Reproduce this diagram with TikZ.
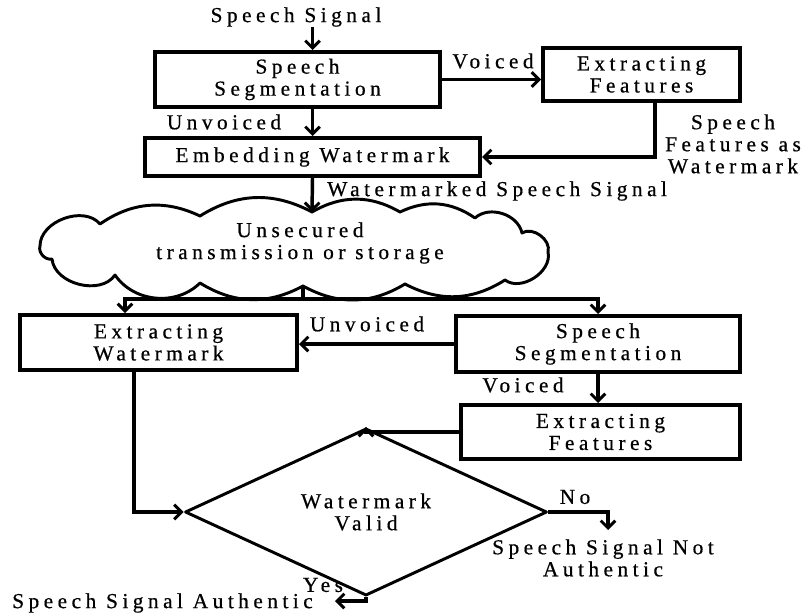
\documentclass[tikz,border=0pt]{standalone}
\usepackage{fontspec}
\setmainfont{Liberation Serif}[LetterSpace=21,FakeBold=0.6]
\usepackage{tikz}
\usetikzlibrary{shapes.geometric,arrows.meta,calc}
\newcommand{\pxu}{0.75pt}
\tikzset{procbox/.style={draw, rectangle, line width=3pt, align=center, inner sep=0pt},
    conn/.style={line width=2.6pt},
    arr/.style={conn, -{Straight Barb[length=5.5pt,width=11pt,line width=2.2pt]}},
    lbl/.style={inner sep=0pt, align=center},
    outline/.style={line width=2.2pt, line join=round}}

\begin{document}
\begin{tikzpicture}[x=0.75pt,y=-0.75pt,font=\fontsize{16}{16.5}\selectfont]
        \useasboundingbox (0,0) rectangle (804,614);
        % embedding side
        \node[lbl] (src) at (296,17) {Speech Signal};
        \node[procbox, minimum width=285*\pxu, minimum height=55*\pxu] (seg1) at (297.5,79.5) {Speech\\Segmentation};
        \node[procbox, minimum width=197*\pxu, minimum height=53*\pxu] (feat1) at (641.5,74.5) {Extracting\\Features};
        \node[procbox, minimum width=335*\pxu, minimum height=38*\pxu] (emb) at (312.5,157) {Embedding Watermark};
        % channel cloud
        \draw[outline] (40,246) to[bend left=70] (100,224) to[bend left=30] (200,216) to[bend left=30] (312,212)
            to[bend left=30] (400,212) to[bend left=30] (475,218) to[bend left=60] (522,233) to[bend left=70] (548,252)
            to[bend left=70] (505,280) to[bend left=30] (405,284) to[bend left=30] (303,286) to[bend left=30] (200,283)
            to[bend left=50] (115,275) to[bend left=70] (52,259) to[bend left=60] (40,246);
        \node[lbl] (chan) at (300,243) {Unsecured\\transmission or storage};
        \coordinate (ctop) at (312,212);
        \coordinate (cbot) at (303,286);
        \coordinate (split) at (303,299);
        % extraction side
        \node[procbox, minimum width=277*\pxu, minimum height=55*\pxu] (extr) at (158.5,342.5) {Extracting\\Watermark};
        \node[procbox, minimum width=284*\pxu, minimum height=56*\pxu] (seg2) at (598,344) {Speech\\Segmentation};
        \node[procbox, minimum width=279*\pxu, minimum height=54*\pxu] (feat2) at (600.5,432) {Extracting\\Features};
        \node[diamond, draw, outline, minimum width=362*\pxu, minimum height=121*\pxu, inner sep=0pt, align=center] (valid) at (366,512) {Watermark\\Valid};
        \node[lbl] (noauth) at (603,558) {Speech Signal Not\\Authentic};
        \node[lbl, anchor=west] (auth) at (12,603) {Speech Signal Authentic};
        \coordinate (noend) at (608,530);
        \coordinate (authend) at (335,601);
        % labels
        \node[lbl] (voi1) at (493,61) {Voiced};
        \node[lbl] (unv1) at (224,122) {Unvoiced};
        \node[lbl] (sfw) at (733,144) {Speech\\Features as\\Watermark};
        \node[lbl, anchor=west] (wss) at (327,191) {Watermarked Speech Signal};
        \node[lbl] (unv2) at (367,324) {Unvoiced};
        \node[lbl] (voi2) at (523,385) {Voiced};
        \node[lbl] (no) at (575,497) {No};
        \node[lbl] (yes) at (323,585) {Yes};
        % connectors
        \draw[arr] (src.south -| emb.north) -- (seg1.north -| emb.north);
        \draw[arr] (seg1.south -| emb.north) -- (emb.north);
        \draw[arr] (seg1.east) -- (seg1.east -| feat1.west);
        \draw[arr] ($(feat1.south)+(13.5,0)$) |- (emb.east);
        \draw[arr] (emb.south) -- (ctop);
        \draw[conn] (cbot) -- (split);
        \draw[arr] (split) -| ($(extr.north)+(-33.5,0)$);
        \draw[arr] (split) -| (seg2.north);
        \draw[arr] (seg2.west) -- (seg2.west -| extr.east);
        \draw[arr] (seg2.south) -- (seg2.south |- feat2.north);
        \draw[arr] (feat2.west) -| (valid.north);
        \draw[arr] ($(extr.south)+(-24.5,0)$) |- (valid.west);
        \draw[arr] (valid.east) -| (noend);
        \draw[arr] (valid.south) |- (authend);
    \end{tikzpicture}
\end{document}
